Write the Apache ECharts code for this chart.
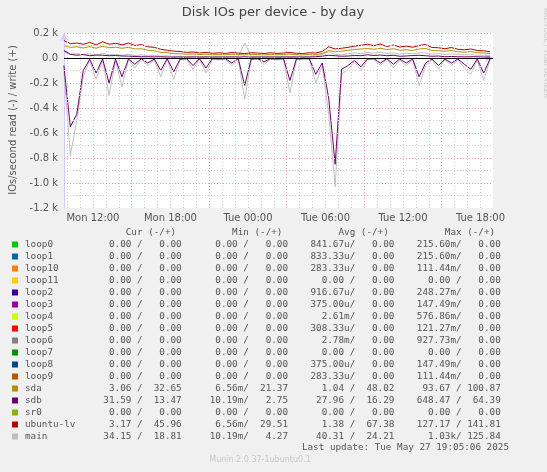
<!DOCTYPE html>
<html><head><meta charset="utf-8">
<script src="https://cdn.jsdelivr.net/npm/echarts@6/dist/echarts.min.js"></script>
<style>html,body{margin:0;padding:0;background:#f0f0f0}#c{width:547px;height:472px}</style>
</head><body><div id="c"></div>
<script>
// time in hours since Mon 00:00, sampled every 30 min from 09:45
const startHour = 9.75, stepHour = 0.5;
const ubuntuLvWrite = [140,115,120,110,125,105,130,110,118,105,120,100,108,90,85,70,62,55,52,45,48,40,44,38,42,37,44,39,36,42,40,36,42,37,40,44,38,36,42,40,52,90,72,78,85,95,102,110,98,112,92,104,88,95,86,100,108,84,82,74,84,70,66,72,60,58,50];
const sdaWrite = [100,85,90,80,92,78,95,82,86,78,85,72,74,62,58,45,42,35,34,30,32,27,31,26,29,26,30,27,25,29,28,25,29,26,27,31,27,25,29,28,36,60,50,55,62,68,72,76,70,78,68,74,62,66,60,72,76,60,58,54,60,50,47,51,42,41,35];
const mainWrite = [50,30,35,25,35,22,38,25,30,22,30,20,25,18,20,15,18,12,15,12,15,12,14,12,15,12,14,12,120,12,14,12,15,12,14,12,15,12,14,18,30,50,30,25,35,40,35,45,38,45,36,40,32,38,35,42,40,32,36,28,32,28,25,28,22,22,20];
const sdbWrite = [60,30,22,28,18,24,22,18,20,16,15,12,10,10,9,10,8,7,8,7,8,7,8,7,8,7,8,7,10,7,8,7,8,7,8,7,8,7,8,10,15,22,18,14,16,20,18,26,20,24,18,22,14,16,20,22,18,14,16,10,12,10,9,10,10,8,8];
const mainRead = [-100,-780,-500,-150,-20,-170,-15,-300,-20,-230,-15,-80,-10,-60,-15,-150,-10,-170,-15,-10,-90,-10,-120,-10,-15,-10,-60,-10,-330,-15,-10,-50,-10,-15,-10,-280,-15,-10,-10,-200,-60,-450,-1030,-130,-90,-30,-100,-15,-10,-60,-10,-80,-15,-60,-15,-220,-60,-15,-90,-15,-60,-15,-80,-130,-15,-180,-10];
const sdbRead = [-60,-550,-450,-100,-10,-120,-8,-200,-10,-150,-8,-50,-5,-40,-8,-100,-5,-110,-8,-5,-60,-5,-80,-5,-8,-5,-40,-5,-220,-8,-5,-30,-5,-8,-5,-180,-8,-5,-5,-130,-40,-320,-850,-90,-60,-20,-70,-8,-5,-40,-5,-50,-8,-40,-8,-150,-40,-8,-60,-8,-40,-8,-50,-90,-8,-120,-5];
const xTicks = [12,18,24,30,36,42];

const legendNames = ['loop0','loop1','loop10','loop11','loop2','loop3','loop4','loop5','loop6','loop7','loop8','loop9','sda','sdb','sr0','ubuntu-lv','main'];
const legendColors = ['#00cc00','#0066b3','#ff8000','#ffcc00','#330099','#990099','#ccff00','#ff0000','#808080','#008f00','#00487d','#b35a00','#b38f00','#6b006b','#8fb300','#b30000','#bebebe'];
const curCol = [['0.00 ','0.00'],['0.00 ','0.00'],['0.00 ','0.00'],['0.00 ','0.00'],['0.00 ','0.00'],['0.00 ','0.00'],['0.00 ','0.00'],['0.00 ','0.00'],['0.00 ','0.00'],['0.00 ','0.00'],['0.00 ','0.00'],['0.00 ','0.00'],['3.06 ','32.65'],['31.59 ','13.47'],['0.00 ','0.00'],['3.17 ','45.96'],['34.15 ','18.81']];
const minCol = [['0.00 ','0.00'],['0.00 ','0.00'],['0.00 ','0.00'],['0.00 ','0.00'],['0.00 ','0.00'],['0.00 ','0.00'],['0.00 ','0.00'],['0.00 ','0.00'],['0.00 ','0.00'],['0.00 ','0.00'],['0.00 ','0.00'],['0.00 ','0.00'],['6.56m','21.37'],['10.19m','2.75'],['0.00 ','0.00'],['6.56m','29.51'],['10.19m','4.27']];
const avgCol = [['841.67u','0.00'],['833.33u','0.00'],['283.33u','0.00'],['0.00 ','0.00'],['916.67u','0.00'],['375.00u','0.00'],['2.61m','0.00'],['308.33u','0.00'],['2.78m','0.00'],['0.00 ','0.00'],['375.00u','0.00'],['283.33u','0.00'],['1.04 ','48.02'],['27.96 ','16.29'],['0.00 ','0.00'],['1.38 ','67.38'],['40.31 ','24.21']];
const maxCol = [['215.60m','0.00'],['215.60m','0.00'],['111.44m','0.00'],['0.00 ','0.00'],['248.27m','0.00'],['147.49m','0.00'],['576.86m','0.00'],['121.27m','0.00'],['927.73m','0.00'],['0.00 ','0.00'],['147.49m','0.00'],['111.44m','0.00'],['93.67 ','100.87'],['648.47 ','64.39'],['0.00 ','0.00'],['127.17 ','141.81'],['1.03k','125.84']];

function pairs(arr){return arr.map((v,i)=>[startHour+i*stepHour,v]);}
function line(name,arr,color){return {name,type:'line',data:pairs(arr),symbol:'none',lineStyle:{width:1,color},itemStyle:{color},z:3,animation:false};}

const vMinor=[], vMajor=[];
for(let h=10;h<=43;h++){ if(h%6===3) vMajor.push({xAxis:h}); else vMinor.push({xAxis:h}); }
const hMinor=[], hMajor=[];
for(let v=-1100;v<=200;v+=100){ if(v%200===0) hMajor.push({yAxis:v}); else hMinor.push({yAxis:v}); }

const series = [
 {type:'line',data:[],silent:true,markLine:{silent:true,symbol:'none',label:{show:false},animation:false,lineStyle:{color:'#cfcfcf',type:[1,2],width:1},data:vMinor.concat(hMinor)}},
 {type:'line',data:[],silent:true,markLine:{silent:true,symbol:'none',label:{show:false},animation:false,lineStyle:{color:'#f4a0a0',type:[1,2],width:1},data:vMajor.concat(hMajor)}},
 line('main-',mainRead,'#bebebe'),
 line('sdb-',sdbRead,'#6b006b'),
 line('main+',mainWrite,'#bebebe'),
 line('sdb+',sdbWrite,'#6b006b'),
 line('sda+',sdaWrite,'#b38f00'),
 line('ubuntu-lv+',ubuntuLvWrite,'#b30000'),
 {type:'line',data:[],silent:true,markLine:{silent:true,symbol:'none',label:{show:false},animation:false,lineStyle:{color:'#000',type:'solid',width:1},data:[{yAxis:0}]},z:5}
];

const mono='"DejaVu Sans Mono", monospace';
const fs=9.3;
const graphics=[];
function col(c){return c[0].padStart(8)+'/'+c[1].padStart(7);}
graphics.push({type:'text',left:25,top:228,style:{text:''.padEnd(18)+'Cur (-/+)'.padEnd(19)+'Min (-/+)'.padEnd(19)+'Avg (-/+)'.padEnd(19)+'Max (-/+)',font:fs+'px '+mono,fill:'#555'}});
legendNames.forEach((n,i)=>{
  const y=240+i*12;
  graphics.push({type:'rect',shape:{x:12,y:y+1.5,width:6,height:6},style:{fill:legendColors[i]}});
  const txt=n.padEnd(12)+col(curCol[i])+'   '+col(minCol[i])+'   '+col(avgCol[i])+'   '+col(maxCol[i]);
  graphics.push({type:'text',x:25,y:y,style:{text:txt,font:fs+'px '+mono,fill:'#555'}});
});
graphics.push({type:'text',right:38,top:443,style:{text:'Last update: Tue May 27 19:05:06 2025',font:fs+'px '+mono,fill:'#555',align:'right'}});
graphics.push({type:'text',x:260,y:456,style:{text:'Munin 2.0.37-1ubuntu0.1',font:'8px "DejaVu Sans"',fill:'#c8c8c8',align:'center'}});
graphics.push({type:'text',x:273,y:6,style:{text:'Disk IOs per device - by day',font:'13px "DejaVu Sans"',fill:'#444',align:'center'}});
graphics.push({type:'text',x:8,y:120,rotation:Math.PI/2,style:{text:'IOs/second read (-) / write (+)',font:'10px "DejaVu Sans"',fill:'#555',align:'center',verticalAlign:'top'}});
graphics.push({type:'text',x:542,y:8,rotation:-Math.PI/2,style:{text:'RRDTOOL / TOBI OETIKER',font:'7px "DejaVu Sans"',fill:'#c8c8c8',align:'left',verticalAlign:'bottom'}});

const chart=echarts.init(document.getElementById('c'));
chart.setOption({
 backgroundColor:'#f0f0f0',animation:false,
 grid:{left:64,right:54,top:33,bottom:264,backgroundColor:'#fff',show:true,borderWidth:0},
 xAxis:{type:'value',min:9.76,max:42.97,
   axisLine:{lineStyle:{color:'#ccccff'},symbol:['none','arrow'],symbolSize:[6,8]},
   axisTick:{show:false},splitLine:{show:false},
   axisLabel:{customValues:xTicks,color:'#555',fontSize:10,fontFamily:'DejaVu Sans',margin:5,formatter:v=>(v<24?'Mon ':'Tue ')+String(Math.round(v)%24).padStart(2,'0')+':00'}},
 yAxis:{type:'value',min:-1200,max:200,interval:200,
   axisLine:{show:true,lineStyle:{color:'#ccccff'},symbol:['none','arrow'],symbolSize:[6,8]},
   axisTick:{show:false},splitLine:{show:false},
   axisLabel:{color:'#555',fontSize:10,fontFamily:'DejaVu Sans',margin:6,formatter:v=>v===0?'0.0':(v/1000).toFixed(1)+' k'}},
 series,graphic:graphics
});
</script></body></html>
